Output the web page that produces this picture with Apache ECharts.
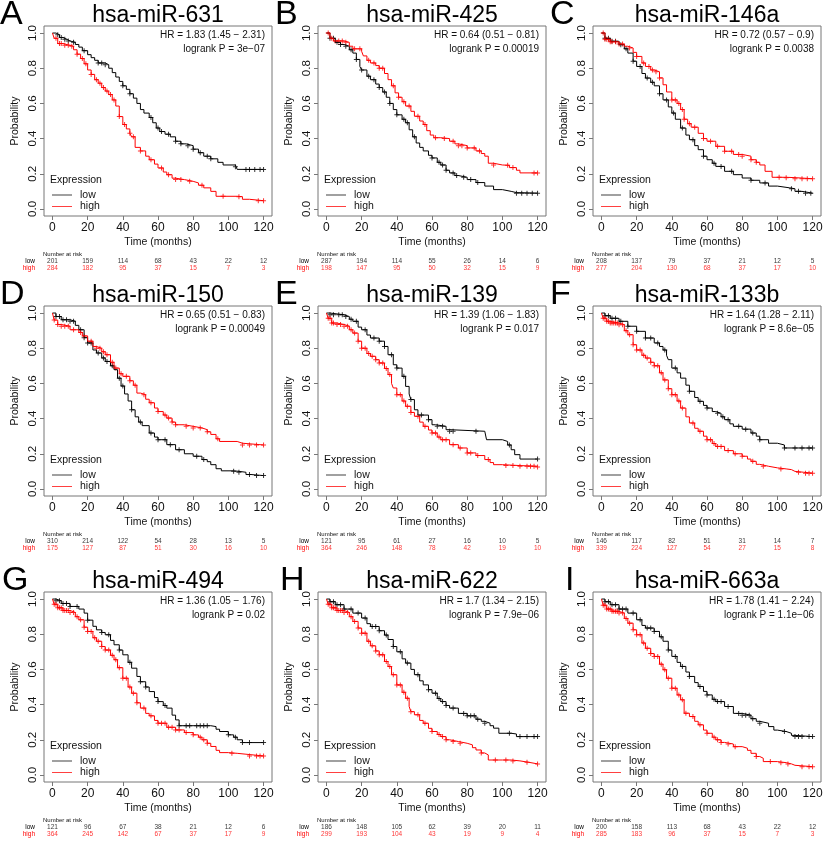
<!DOCTYPE html>
<html><head><meta charset="utf-8">
<script src="https://cdn.jsdelivr.net/npm/echarts@6/dist/echarts.min.js"></script>
<style>html,body{margin:0;padding:0;background:#fff}#c{width:825px;height:842px}</style>
</head><body><div id="c"></div>
<script>
// ---------- data ----------
const timeTicks = [0, 20, 40, 60, 80, 100, 120];
const probTicks = [0, 0.2, 0.4, 0.6, 0.8, 1.0];
const letters = ['A','B','C','D','E','F','G','H','I'];
const titles = ['hsa-miR-631','hsa-miR-425','hsa-miR-146a','hsa-miR-150','hsa-miR-139','hsa-miR-133b','hsa-miR-494','hsa-miR-622','hsa-miR-663a'];
const hrTexts = ['HR = 1.83 (1.45 \u2212 2.31)','HR = 0.64 (0.51 \u2212 0.81)','HR = 0.72 (0.57 \u2212 0.9)','HR = 0.65 (0.51 \u2212 0.83)','HR = 1.39 (1.06 \u2212 1.83)','HR = 1.64 (1.28 \u2212 2.11)','HR = 1.36 (1.05 \u2212 1.76)','HR = 1.7 (1.34 \u2212 2.15)','HR = 1.78 (1.41 \u2212 2.24)'];
const pTexts = ['logrank P = 3e\u221207','logrank P = 0.00019','logrank P = 0.0038','logrank P = 0.00049','logrank P = 0.017','logrank P = 8.6e\u221205','logrank P = 0.02','logrank P = 7.9e\u221206','logrank P = 1.1e\u221206'];

const riskLowA=[201,159,114,68,43,22,12], riskHighA=[284,182,95,37,15,7,3];
const riskLowB=[287,194,114,55,26,14,6], riskHighB=[198,147,95,50,32,15,9];
const riskLowC=[208,137,79,37,21,12,5], riskHighC=[277,204,130,68,37,17,10];
const riskLowD=[310,214,122,54,28,13,5], riskHighD=[175,127,87,51,30,16,10];
const riskLowE=[121,95,61,27,16,10,5], riskHighE=[364,246,148,78,42,19,10];
const riskLowF=[146,117,82,51,31,14,7], riskHighF=[339,224,127,54,27,15,8];
const riskLowG=[121,96,67,38,21,12,6], riskHighG=[364,245,142,67,37,17,9];
const riskLowH=[186,148,105,62,39,20,11], riskHighH=[299,193,104,43,19,9,4];
const riskLowI=[200,158,113,68,43,22,12], riskHighI=[285,183,96,37,15,7,3];

const lowA=[[0,1],[2,0.99],[4,0.975],[6,0.965],[8,0.955],[10,0.947],[13,0.935],[15,0.92],[17,0.9],[20,0.877],[22,0.86],[24,0.845],[26,0.83],[30,0.82],[32,0.8],[34,0.775],[36,0.75],[38,0.725],[40,0.7],[42,0.68],[44,0.655],[46,0.63],[48,0.6],[50,0.565],[52,0.545],[55,0.52],[57,0.49],[59,0.46],[61,0.44],[64,0.425],[67,0.41],[70,0.385],[73,0.37],[76,0.36],[80,0.34],[83,0.32],[86,0.3],[90,0.285],[94,0.265],[97,0.25],[104,0.24],[105,0.225],[120,0.225]];
const highA=[[0,1],[1,0.97],[3,0.94],[6,0.93],[10,0.925],[12,0.905],[14,0.88],[16,0.855],[18,0.825],[20,0.79],[22,0.765],[24,0.735],[26,0.715],[28,0.69],[30,0.67],[32,0.65],[34,0.62],[36,0.585],[38,0.525],[40,0.48],[42,0.455],[44,0.43],[45,0.41],[47,0.35],[50,0.33],[53,0.3],[55,0.28],[58,0.255],[60,0.233],[63,0.21],[65,0.195],[68,0.175],[70,0.167],[75,0.157],[80,0.148],[83,0.135],[86,0.12],[90,0.1],[93,0.072],[105,0.07],[108,0.055],[112,0.047],[120,0.047]];
const lowB=[[0,1],[2,0.97],[5,0.947],[8,0.935],[10,0.925],[13,0.905],[15,0.886],[17,0.85],[19,0.81],[20,0.79],[23,0.755],[25,0.735],[28,0.71],[30,0.69],[32,0.665],[34,0.635],[36,0.6],[38,0.565],[40,0.535],[43,0.51],[45,0.49],[47,0.45],[49,0.41],[51,0.375],[53,0.35],[55,0.33],[58,0.305],[60,0.29],[63,0.265],[65,0.25],[68,0.22],[70,0.205],[73,0.19],[75,0.18],[80,0.167],[85,0.15],[90,0.13],[95,0.11],[100,0.1],[105,0.093],[108,0.09],[120,0.09]];
const highB=[[0,1],[2,0.97],[4,0.955],[10,0.947],[13,0.925],[15,0.91],[20,0.896],[21,0.87],[23,0.845],[25,0.83],[28,0.815],[30,0.8],[33,0.77],[35,0.735],[37,0.7],[39,0.66],[41,0.635],[43,0.61],[45,0.585],[48,0.555],[50,0.527],[53,0.5],[55,0.48],[57,0.445],[59,0.42],[61,0.405],[65,0.4],[70,0.385],[73,0.37],[75,0.36],[80,0.347],[85,0.33],[88,0.315],[90,0.3],[92,0.26],[95,0.25],[100,0.248],[104,0.235],[108,0.22],[110,0.205],[120,0.205]];
const lowC=[[0,1],[2,0.97],[5,0.953],[10,0.934],[13,0.91],[15,0.886],[18,0.84],[20,0.81],[23,0.77],[25,0.744],[28,0.72],[30,0.7],[33,0.655],[35,0.62],[38,0.58],[40,0.545],[42,0.51],[45,0.46],[48,0.42],[50,0.394],[53,0.36],[55,0.337],[58,0.3],[60,0.28],[63,0.26],[65,0.242],[70,0.214],[75,0.195],[80,0.176],[85,0.163],[90,0.148],[95,0.13],[100,0.12],[107,0.115],[110,0.1],[114,0.09],[120,0.09]];
const highC=[[0,1],[2,0.965],[5,0.95],[10,0.937],[13,0.925],[15,0.915],[18,0.89],[20,0.867],[23,0.83],[25,0.81],[28,0.79],[30,0.78],[33,0.745],[35,0.706],[37,0.665],[40,0.62],[43,0.6],[45,0.565],[47,0.51],[49,0.485],[51,0.465],[55,0.43],[58,0.4],[60,0.385],[65,0.356],[70,0.328],[75,0.31],[80,0.3],[85,0.28],[88,0.265],[90,0.25],[93,0.214],[97,0.18],[105,0.178],[110,0.172],[120,0.172]];
const lowD=[[0,1],[2,0.98],[5,0.962],[10,0.953],[13,0.93],[15,0.905],[18,0.86],[20,0.83],[23,0.79],[25,0.773],[28,0.745],[30,0.725],[33,0.7],[35,0.678],[37,0.63],[39,0.585],[41,0.54],[43,0.5],[45,0.45],[47,0.41],[49,0.38],[51,0.36],[55,0.318],[58,0.295],[60,0.28],[65,0.252],[70,0.223],[75,0.2],[80,0.186],[85,0.167],[88,0.155],[90,0.138],[93,0.115],[96,0.103],[103,0.1],[106,0.095],[110,0.082],[113,0.076],[120,0.076]];
const highD=[[0,1],[1,0.96],[3,0.935],[5,0.925],[10,0.905],[15,0.89],[17,0.87],[20,0.84],[23,0.81],[25,0.8],[28,0.78],[30,0.763],[33,0.72],[35,0.687],[38,0.655],[40,0.64],[44,0.615],[46,0.59],[48,0.545],[50,0.536],[53,0.51],[55,0.49],[58,0.46],[60,0.44],[63,0.42],[65,0.403],[68,0.38],[70,0.365],[75,0.356],[80,0.347],[85,0.337],[88,0.325],[90,0.31],[93,0.285],[95,0.27],[105,0.26],[108,0.25],[120,0.25]];
const lowE=[[0,1],[2,0.99],[10,0.98],[13,0.965],[15,0.953],[18,0.92],[20,0.905],[23,0.875],[25,0.858],[30,0.84],[33,0.81],[35,0.763],[38,0.706],[40,0.687],[43,0.64],[45,0.583],[47,0.54],[48,0.508],[50,0.45],[52,0.42],[58,0.394],[60,0.365],[62,0.356],[68,0.337],[70,0.328],[90,0.328],[91,0.28],[100,0.27],[103,0.25],[105,0.223],[107,0.195],[110,0.17],[120,0.17]];
const highE=[[0,1],[1,0.97],[3,0.943],[6,0.935],[10,0.925],[13,0.905],[15,0.886],[18,0.84],[20,0.8],[23,0.77],[25,0.754],[28,0.735],[30,0.716],[33,0.685],[35,0.65],[37,0.6],[38,0.574],[40,0.536],[43,0.5],[45,0.47],[48,0.435],[50,0.413],[53,0.38],[55,0.356],[58,0.335],[60,0.318],[63,0.295],[65,0.28],[70,0.252],[75,0.233],[80,0.205],[85,0.19],[90,0.167],[93,0.15],[95,0.138],[100,0.133],[110,0.129],[120,0.125]];
const lowF=[[0,1],[2,0.985],[5,0.97],[10,0.953],[15,0.925],[20,0.896],[25,0.858],[30,0.83],[33,0.81],[35,0.79],[37,0.76],[38,0.735],[40,0.687],[43,0.66],[45,0.63],[48,0.59],[50,0.555],[53,0.52],[55,0.498],[58,0.475],[60,0.46],[63,0.44],[65,0.43],[68,0.41],[70,0.394],[73,0.37],[75,0.356],[80,0.34],[85,0.318],[88,0.3],[90,0.28],[95,0.26],[100,0.25],[104,0.233],[120,0.233]];
const highF=[[0,1],[1,0.97],[3,0.953],[5,0.943],[10,0.934],[13,0.9],[15,0.877],[18,0.82],[20,0.79],[23,0.76],[25,0.744],[28,0.72],[30,0.7],[33,0.66],[35,0.62],[38,0.57],[40,0.536],[43,0.5],[45,0.46],[48,0.41],[50,0.375],[53,0.345],[55,0.328],[58,0.3],[60,0.28],[63,0.258],[65,0.242],[70,0.218],[75,0.2],[80,0.186],[83,0.17],[85,0.157],[88,0.14],[90,0.129],[95,0.12],[100,0.114],[105,0.11],[108,0.1],[110,0.095],[115,0.09],[120,0.09]];
const lowG=[[0,1],[2,0.99],[5,0.975],[10,0.958],[15,0.943],[18,0.92],[20,0.88],[23,0.845],[25,0.825],[28,0.81],[30,0.797],[33,0.765],[35,0.74],[38,0.71],[40,0.683],[43,0.64],[45,0.607],[48,0.56],[50,0.53],[53,0.5],[55,0.474],[58,0.44],[60,0.417],[63,0.395],[65,0.38],[68,0.34],[70,0.313],[72,0.28],[90,0.275],[93,0.26],[95,0.247],[100,0.228],[103,0.215],[105,0.2],[108,0.184],[120,0.184]];
const highG=[[0,1],[1,0.97],[3,0.95],[6,0.935],[10,0.924],[13,0.9],[15,0.882],[18,0.84],[20,0.816],[23,0.78],[25,0.76],[28,0.73],[30,0.71],[33,0.68],[35,0.655],[37,0.61],[40,0.55],[43,0.5],[45,0.465],[48,0.41],[50,0.38],[53,0.35],[55,0.336],[58,0.31],[60,0.294],[65,0.271],[70,0.256],[75,0.241],[80,0.228],[83,0.215],[85,0.2],[88,0.18],[90,0.162],[93,0.14],[95,0.127],[100,0.123],[105,0.118],[110,0.108],[120,0.108]];
const lowH=[[0,1],[2,0.985],[5,0.968],[10,0.943],[15,0.92],[20,0.892],[23,0.86],[25,0.844],[30,0.82],[33,0.795],[35,0.77],[38,0.73],[40,0.7],[43,0.66],[45,0.636],[48,0.6],[50,0.57],[53,0.535],[55,0.512],[58,0.485],[60,0.465],[63,0.435],[65,0.417],[68,0.395],[70,0.38],[75,0.35],[80,0.336],[85,0.317],[88,0.305],[90,0.294],[93,0.28],[95,0.266],[98,0.237],[105,0.233],[108,0.218],[120,0.218]];
const highH=[[0,1],[1,0.97],[3,0.95],[6,0.935],[10,0.924],[13,0.9],[15,0.873],[18,0.835],[20,0.806],[23,0.76],[25,0.734],[28,0.705],[30,0.683],[33,0.645],[35,0.616],[37,0.57],[40,0.512],[43,0.47],[45,0.436],[47,0.39],[48,0.36],[50,0.342],[53,0.31],[55,0.294],[58,0.265],[60,0.247],[63,0.23],[65,0.218],[68,0.2],[70,0.19],[75,0.18],[80,0.171],[83,0.155],[85,0.142],[88,0.125],[90,0.114],[92,0.085],[100,0.085],[105,0.08],[110,0.072],[115,0.063],[120,0.063]];
const lowI=[[0,1],[2,0.985],[5,0.968],[10,0.943],[15,0.92],[20,0.882],[23,0.85],[25,0.835],[30,0.816],[33,0.785],[35,0.76],[38,0.71],[40,0.674],[43,0.64],[45,0.617],[48,0.585],[50,0.56],[53,0.525],[55,0.503],[58,0.475],[60,0.455],[63,0.43],[65,0.417],[70,0.389],[75,0.35],[80,0.34],[85,0.32],[88,0.305],[90,0.294],[95,0.275],[98,0.255],[100,0.247],[105,0.237],[108,0.225],[110,0.218],[120,0.218]];
const highI=[[0,1],[1,0.965],[3,0.943],[6,0.93],[10,0.92],[13,0.89],[15,0.863],[18,0.825],[20,0.797],[23,0.75],[25,0.72],[28,0.69],[30,0.674],[33,0.63],[35,0.598],[37,0.55],[40,0.493],[43,0.455],[45,0.427],[47,0.351],[50,0.332],[53,0.305],[55,0.285],[58,0.255],[60,0.237],[63,0.215],[65,0.2],[68,0.185],[70,0.176],[75,0.161],[80,0.152],[83,0.14],[85,0.123],[88,0.105],[90,0.095],[92,0.076],[100,0.07],[105,0.063],[108,0.055],[110,0.047],[120,0.047]];

// censored times (+ marks)
const cenLowA=[3,5,7,9,12,18,26,28,30,40,44,56,60,62,66,70,73,77,80,84,88,90,104,110,112,115,118,120];
const cenHighA=[2,4,5,7,9,11,14,17,19,22,25,27,29,31,33,35,38,41,44,46,50,56,62,66,70,73,78,85,97,106,117,120];
const cenLowB=[2,4,6,8,11,14,17,20,24,27,30,33,36,40,44,46,50,60,64,66,68,72,74,78,82,86,108,111,114,117,120];
const cenHighB=[1,3,5,7,9,11,16,19,24,27,30,32,38,41,44,47,52,56,62,67,72,75,77,80,84,87,95,103,106,118,120];
const cenLowC=[2,4,6,8,11,14,18,22,26,29,33,37,41,46,52,58,64,68,74,85,93,108,112,116,119];
const cenHighC=[1,2,3,4,5,6,8,10,12,16,20,24,27,29,31,33,40,42,44,46,47,50,53,58,62,66,70,74,78,80,85,88,101,105,110,114,117,120];
const cenLowD=[2,4,6,8,10,12,16,18,20,22,26,29,31,34,38,40,45,50,56,60,64,67,72,82,86,103,106,112,116,120];
const cenHighD=[1,3,5,7,9,12,16,18,22,25,27,29,31,34,36,39,42,44,47,52,56,60,64,66,68,70,76,80,84,88,94,108,112,116,120];
const cenLowE=[2,4,7,9,11,14,17,22,27,30,33,37,40,44,48,54,58,63,66,70,72,85,104,120];
const cenHighE=[1,2,3,4,6,8,10,12,14,16,18,20,22,24,26,28,30,32,34,36,40,42,44,46,48,52,56,60,62,64,66,68,72,76,80,82,86,92,102,106,110,114,116,118,120];
const cenLowF=[2,4,6,8,11,15,20,25,28,32,36,42,50,56,60,66,69,72,78,82,86,90,104,110,114,118,120];
const cenHighF=[1,2,3,4,5,6,7,8,9,10,12,14,16,18,20,22,24,26,28,30,32,34,36,38,40,42,44,46,52,56,60,62,64,66,68,72,76,80,86,92,102,112,116,118,120];
const cenLowG=[2,4,6,8,10,14,20,28,32,38,44,50,53,60,64,72,76,78,82,84,86,88,100,104,108,112,120];
const cenHighG=[1,2,3,4,5,6,7,8,9,10,12,14,16,18,20,22,24,26,28,30,32,34,36,38,40,42,44,46,48,52,56,60,62,64,66,68,70,72,76,80,84,86,88,102,112,116,118,120];
const cenLowH=[2,4,6,8,10,14,18,22,26,28,30,34,38,42,46,52,58,62,64,66,68,72,78,80,82,84,86,90,104,110,114,118,120];
const cenHighH=[1,2,3,4,5,6,7,8,9,10,12,14,16,18,20,22,24,26,28,30,32,34,36,38,40,42,44,46,48,52,56,60,64,66,68,72,76,88,96,102,106,114,120];
const cenLowI=[2,4,6,8,10,12,14,18,22,26,28,30,34,38,42,46,50,56,60,64,66,68,72,78,80,82,84,86,90,104,110,112,114,118,120];
const cenHighI=[1,2,3,4,5,6,7,8,9,10,12,14,16,18,20,22,24,26,28,30,32,34,36,38,40,42,44,46,48,52,56,60,64,66,68,72,76,88,96,102,106,114,118,120];

const lows=[lowA,lowB,lowC,lowD,lowE,lowF,lowG,lowH,lowI];
const highs=[highA,highB,highC,highD,highE,highF,highG,highH,highI];
const cenLows=[cenLowA,cenLowB,cenLowC,cenLowD,cenLowE,cenLowF,cenLowG,cenLowH,cenLowI];
const cenHighs=[cenHighA,cenHighB,cenHighC,cenHighD,cenHighE,cenHighF,cenHighG,cenHighH,cenHighI];
const riskLows=[riskLowA,riskLowB,riskLowC,riskLowD,riskLowE,riskLowF,riskLowG,riskLowH,riskLowI];
const riskHighs=[riskHighA,riskHighB,riskHighC,riskHighD,riskHighE,riskHighF,riskHighG,riskHighH,riskHighI];

// ---------- layout ----------
const colX=[0,274,549], rowY=[0,280,566];
const letterDX=[0,1,1, 0,1,1, 2,6,16];
const FONT='"Liberation Sans", Arial, Helvetica, sans-serif';
const LOWC='#000000', HIGHC='#ff0000', BOX='#777777', TXT='#111111';
const plusSym='path://M4,0H6V4H10V6H6V10H4V6H0V4H4Z';

function stepAt(curve,t){let v=curve[0][1];for(const p of curve){if(p[0]<=t)v=p[1];else break;}return v;}

const grid=[], xAxis=[], yAxis=[], series=[], legend=[], graphic=[];
for(let i=0;i<9;i++){
  const ox=colX[i%3], oy=rowY[Math.floor(i/3)];
  grid.push({left:ox+44, top:oy+26, width:228, height:190, show:true, borderColor:BOX, borderWidth:1, backgroundColor:'transparent', outerBoundsMode:'none'});
  xAxis.push({type:'value', gridIndex:i, min:-4.8, max:124.8,
    name:'Time (months)', nameLocation:'middle', nameGap:21,
    nameTextStyle:{fontSize:10.5, color:TXT, fontFamily:FONT},
    axisLine:{show:false, onZero:false}, splitLine:{show:false},
    axisTick:{show:true, length:4, lineStyle:{color:BOX}, customValues:timeTicks},
    axisLabel:{fontSize:12, color:TXT, margin:6, fontFamily:FONT, customValues:timeTicks}});
  yAxis.push({type:'value', gridIndex:i, min:-0.04, max:1.04,
    name:'Probability', nameLocation:'middle', nameGap:23, nameRotate:90,
    nameTextStyle:{fontSize:10.5, color:TXT, fontFamily:FONT},
    axisLine:{show:false, onZero:false}, splitLine:{show:false},
    axisTick:{show:true, length:4, lineStyle:{color:BOX}, customValues:probTicks},
    axisLabel:{fontSize:11.5, color:TXT, margin:5, rotate:90, fontFamily:FONT, customValues:probTicks, formatter:v=>Number(v).toFixed(1)}});
}
for(let i=0;i<9;i++){
  const ox=colX[i%3], oy=rowY[Math.floor(i/3)];
  grid.push({left:ox+44, top:oy+257.5, width:228, height:14, show:false, outerBoundsMode:'none'});
  xAxis.push({type:'value', gridIndex:9+i, min:-4.8, max:124.8, show:false});
  yAxis.push({type:'category', gridIndex:9+i, inverse:true,
    data:[{value:'low', textStyle:{color:LOWC}},{value:'high', textStyle:{color:HIGHC}}],
    axisLine:{show:false}, axisTick:{show:false}, splitLine:{show:false},
    axisLabel:{fontSize:6.5, margin:9, interval:0, hideOverlap:false, fontFamily:FONT}});
}
for(let i=0;i<9;i++){
  const ox=colX[i%3], oy=rowY[Math.floor(i/3)];
  series.push({type:'line', name:'low', xAxisIndex:i, yAxisIndex:i, data:lows[i], step:'end', symbol:'none',
    lineStyle:{color:LOWC, width:1}, itemStyle:{color:LOWC}, silent:true});
  series.push({type:'line', name:'high', xAxisIndex:i, yAxisIndex:i, data:highs[i], step:'end', symbol:'none',
    lineStyle:{color:HIGHC, width:1}, itemStyle:{color:HIGHC}, silent:true});
  series.push({type:'scatter', name:'low censored', xAxisIndex:i, yAxisIndex:i, symbol:plusSym, symbolSize:5,
    data:cenLows[i].map(t=>[t, stepAt(lows[i],t)]), itemStyle:{color:LOWC}, silent:true});
  series.push({type:'scatter', name:'high censored', xAxisIndex:i, yAxisIndex:i, symbol:plusSym, symbolSize:5,
    data:cenHighs[i].map(t=>[t, stepAt(highs[i],t)]), itemStyle:{color:HIGHC}, silent:true});
  series.push({type:'scatter', name:'risk low', xAxisIndex:9+i, yAxisIndex:9+i, symbolSize:1,
    itemStyle:{color:'rgba(0,0,0,0)'}, silent:true,
    data:timeTicks.map((t,k)=>[t,'low',riskLows[i][k]]),
    label:{show:true, position:'inside', formatter:p=>String(p.value[2]), fontSize:6.5, color:LOWC, fontFamily:FONT}});
  series.push({type:'scatter', name:'risk high', xAxisIndex:9+i, yAxisIndex:9+i, symbolSize:1,
    itemStyle:{color:'rgba(0,0,0,0)'}, silent:true,
    data:timeTicks.map((t,k)=>[t,'high',riskHighs[i][k]]),
    label:{show:true, position:'inside', formatter:p=>String(p.value[2]), fontSize:6.5, color:HIGHC, fontFamily:FONT}});
  legend.push({data:[{name:'low', icon:'rect'},{name:'high', icon:'rect'}], left:ox+52, top:oy+189.5, orient:'vertical',
    itemWidth:20, itemHeight:1, itemGap:0.5, padding:0, selectedMode:false,
    itemStyle:{opacity:0.75}, textStyle:{fontSize:10.5, color:TXT, fontFamily:FONT, padding:[0,0,0,3]}});
  graphic.push({type:'text', x:ox+letterDX[i], y:oy+15, style:{text:letters[i], font:'34px '+FONT, fill:'#000', align:'left', verticalAlign:'middle'}});
  graphic.push({type:'text', x:ox+158, y:oy+16, style:{text:titles[i], font:'23px '+FONT, fill:'#000', align:'center', verticalAlign:'middle'}});
  graphic.push({type:'text', x:ox+265, y:oy+35, style:{text:hrTexts[i], font:'10px '+FONT, fill:TXT, align:'right', verticalAlign:'middle'}});
  graphic.push({type:'text', x:ox+265, y:oy+49, style:{text:pTexts[i], font:'10px '+FONT, fill:TXT, align:'right', verticalAlign:'middle'}});
  graphic.push({type:'text', x:ox+50, y:oy+180, style:{text:'Expression', font:'10.5px '+FONT, fill:TXT, align:'left', verticalAlign:'middle'}});
  graphic.push({type:'text', x:ox+43, y:oy+254, style:{text:'Number at risk', font:'6px '+FONT, fill:TXT, align:'left', verticalAlign:'middle'}});
}

const chart=echarts.init(document.getElementById('c'),null,{renderer:'canvas'});
chart.setOption({backgroundColor:'#ffffff', animation:false, textStyle:{fontFamily:FONT},
  grid, xAxis, yAxis, series, legend, graphic});
</script></body></html>
